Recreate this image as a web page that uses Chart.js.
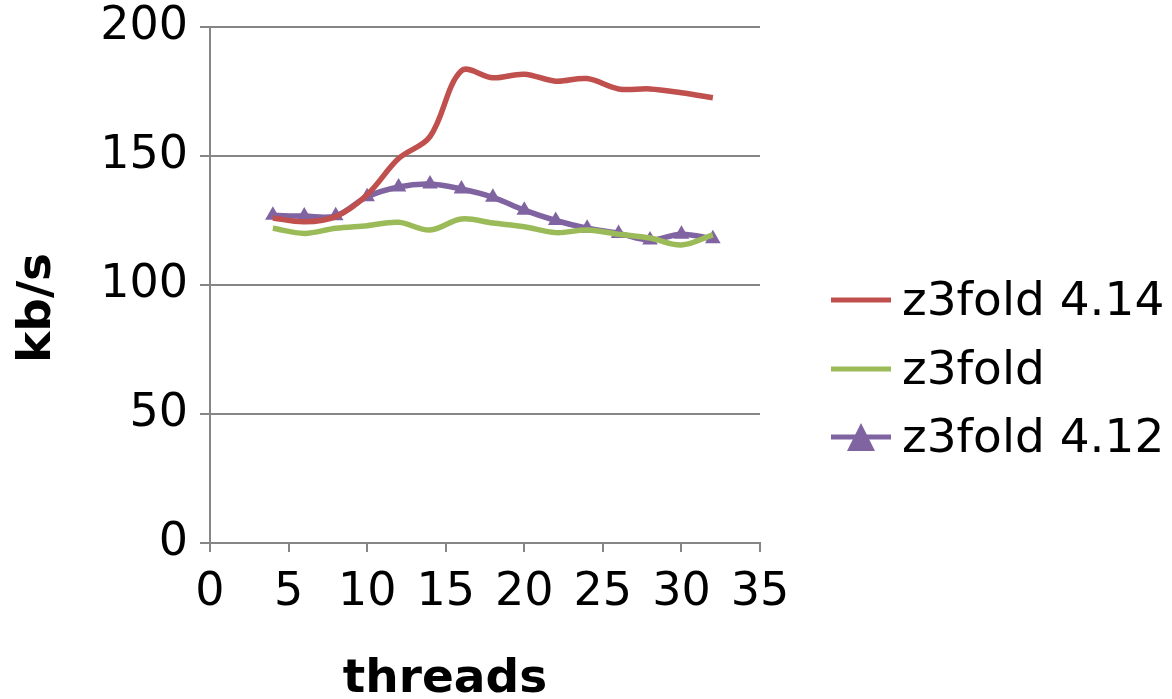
<!DOCTYPE html>
<html>
<head>
<meta charset="utf-8">
<script src="https://cdn.jsdelivr.net/npm/chart.js@4.4.1/dist/chart.umd.min.js"></script>
<style>
  html, body { margin: 0; padding: 0; background: #fff; }
  #wrap { width: 1172px; height: 699px; }
</style>
</head>
<body>
<div id="wrap"><canvas id="c" width="1172" height="699"></canvas></div>
<script>
// Throughput (kb/s) by number of threads for three z3fold builds
const threads = [4, 6, 8, 10, 12, 14, 16, 18, 20, 22, 24, 26, 28, 30, 32];
const z3fold414 = [126, 124.5, 126.5, 135, 149, 157.5, 183, 180.3, 181.7, 179, 180, 176, 176, 174.5, 172.6];
const z3foldBase = [122, 120, 122, 123, 124.3, 121.3, 125.6, 124, 122.6, 120.3, 121.3, 119.7, 118.2, 115.5, 119.4];
const z3fold412 = [127, 126.7, 126.8, 134.2, 138, 139.1, 137.2, 134, 129, 125, 122, 120, 117.4, 119.7, 117.9];

const seriesNames = ['z3fold 4.14', 'z3fold', 'z3fold 4.12'];
const xTicks = [0, 5, 10, 15, 20, 25, 30, 35];
const yTicks = [0, 50, 100, 150, 200];
const xTitle = 'threads';
const yTitle = 'kb/s';

const RED = '#C0504D', GREEN = '#9BBB59', PURPLE = '#8064A2', GRID = '#868686';
const FONT = '"DejaVu Sans", sans-serif';

const pts = (ys) => threads.map((x, i) => ({ x, y: ys[i] }));

// Axis titles and the legend are painted here so they can sit where Excel puts them
const decorations = {
  id: 'decorations',
  afterDraw(chart) {
    const ctx = chart.ctx;
    ctx.save();
    ctx.fillStyle = '#000';
    ctx.font = 'bold 47px ' + FONT;
    ctx.textAlign = 'center';
    ctx.textBaseline = 'alphabetic';
    ctx.fillText(xTitle, 445, 692);
    ctx.save();
    ctx.translate(50, 308);
    ctx.rotate(-Math.PI / 2);
    ctx.fillText(yTitle, 0, 0);
    ctx.restore();

    const colors = [RED, GREEN, PURPLE];
    const rows = [300, 369, 437];
    ctx.font = '47px ' + FONT;
    ctx.textAlign = 'left';
    ctx.textBaseline = 'middle';
    rows.forEach((y, i) => {
      ctx.strokeStyle = colors[i];
      ctx.lineWidth = 5;
      ctx.beginPath();
      ctx.moveTo(831, y);
      ctx.lineTo(891, y);
      ctx.stroke();
      if (i === 2) {
        ctx.fillStyle = PURPLE;
        ctx.beginPath();
        ctx.moveTo(861, y - 14);
        ctx.lineTo(875, y + 14);
        ctx.lineTo(847, y + 14);
        ctx.closePath();
        ctx.fill();
      }
      ctx.fillStyle = '#000';
      ctx.fillText(seriesNames[i], 902, y + 3);
    });
    ctx.restore();
  }
};

new Chart(document.getElementById('c'), {
  type: 'line',
  data: {
    datasets: [
      { label: seriesNames[0], data: pts(z3fold414), borderColor: RED, borderWidth: 5.5, pointRadius: 0, tension: 0.35 },
      { label: seriesNames[1], data: pts(z3foldBase), borderColor: GREEN, borderWidth: 5.5, pointRadius: 0, tension: 0.35 },
      { label: seriesNames[2], data: pts(z3fold412), borderColor: PURPLE, borderWidth: 5.5,
        pointStyle: 'triangle', pointRadius: 9, pointBackgroundColor: PURPLE, pointBorderColor: PURPLE, pointBorderWidth: 0, tension: 0.35 }
    ]
  },
  options: {
    responsive: false,
    animation: false,
    layout: { padding: { left: 0, right: 412, top: 27, bottom: 0 } },
    plugins: { legend: { display: false }, tooltip: { enabled: false } },
    scales: {
      x: {
        type: 'linear', min: 0, max: 35,
        afterBuildTicks: (s) => { s.ticks = xTicks.map(v => ({ value: v })); },
        afterFit: (s) => { s.height = 156; s.paddingLeft = 0; s.paddingRight = 0; },
        grid: { drawOnChartArea: false, drawTicks: true, tickLength: 9, color: GRID, lineWidth: 2 },
        border: { color: GRID, width: 2 },
        ticks: { font: { family: FONT, size: 46 }, color: '#000', padding: 13, maxRotation: 0, autoSkip: false }
      },
      y: {
        type: 'linear', min: 0, max: 200,
        afterBuildTicks: (s) => { s.ticks = yTicks.map(v => ({ value: v })); },
        afterFit: (s) => { s.width = 210; s.paddingTop = 0; s.paddingBottom = 0; },
        grid: { drawTicks: true, tickLength: 10, color: GRID, lineWidth: 2 },
        border: { color: GRID, width: 2 },
        ticks: { font: { family: FONT, size: 46 }, color: '#000', padding: 12 }
      }
    }
  },
  plugins: [decorations]
});
</script>
</body>
</html>
